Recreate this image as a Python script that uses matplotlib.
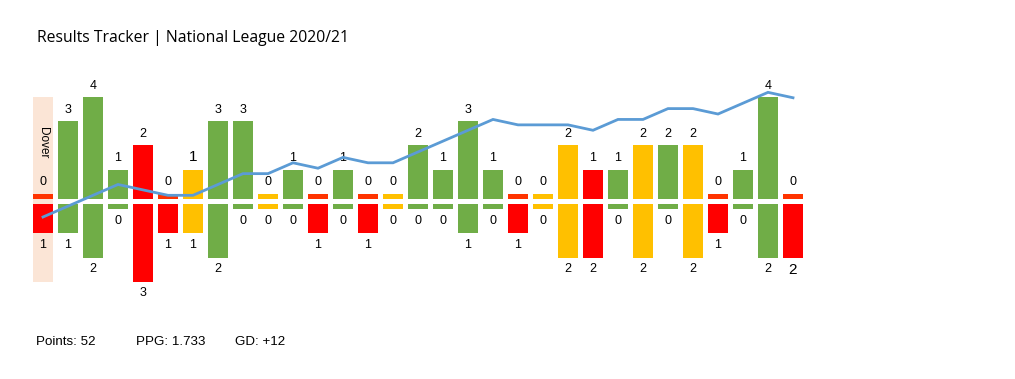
#!/usr/bin/env python3
import matplotlib.pyplot as plt

# match-by-match data (first match vs Dover was expunged)
opponents = ["Dover"] + [""] * 30
goals_for = [0, 3, 4, 1, 2, 0, 1, 3, 3, 0, 1, 0, 1, 0, 0, 2, 1, 3, 1, 0,
             0, 2, 1, 1, 2, 2, 2, 0, 1, 4, 0]
goals_against = [1, 1, 2, 0, 3, 1, 1, 2, 0, 0, 0, 1, 0, 1, 0, 0, 0, 1, 0, 1,
                 0, 2, 2, 0, 2, 0, 2, 1, 0, 2, 2]
results = ["L", "W", "W", "W", "L", "L", "D", "W", "W", "D", "W", "L", "W", "L",
           "D", "W", "W", "W", "W", "L", "D", "D", "L", "W", "D", "W", "D", "L",
           "W", "W", "L"]
# running form line (points above one-per-game)
form = [-1, 1, 3, 5, 4, 3, 3, 5, 7, 7, 9, 8, 10, 9, 9, 11, 13, 15, 17, 16,
        16, 16, 15, 17, 17, 19, 19, 18, 20, 22, 21]
expunged = [0]
big_labels = [(6, "for"), (30, "against")]

points_txt = "Points: 52"
ppg_txt = "PPG: 1.733"
gd_txt = "GD: +12"
title = "Results Tracker | National League 2020/21"

COL = {"W": "#70AD47", "D": "#FFC000", "L": "#FF0000"}
STUB_LOSS = "#FF3300"
LINE = "#5B9BD5"
SHADE = "#FBE5D6"

W, H = 1015, 379
fig = plt.figure(figsize=(W / 100, H / 100), dpi=100)
plt.rcParams["font.family"] = ["Liberation Sans", "DejaVu Sans"]

# axes placed in pixel terms: x 28..808, y 60..300 (from top)
ax = fig.add_axes([28 / W, 1 - 300 / H, 780 / W, 240 / H])
ax.set_xlim(-0.6, 30.6)
px = 24.2  # pixels per goal
zero_y = 201.5
ax.set_ylim(-(300 - zero_y) / px, (zero_y - 60) / px)
ax.axis("off")

gap = 0.1
stub = 0.22
bw = 0.8

for i in expunged:
    top = max(goals_for) + stub + gap
    bot = -(max(goals_against) + stub + gap)
    ax.bar(i, top - bot, bottom=bot, width=bw, color=SHADE, zorder=0)
    ax.text(i, 2.45, opponents[i], rotation=-90, ha="center", va="center",
            fontsize=8.5, zorder=3)

for i, (gf, ga, r) in enumerate(zip(goals_for, goals_against, results)):
    c = COL[r]
    upc = STUB_LOSS if (r == "L" and gf == 0) else c
    ax.bar(i, gf + stub, bottom=gap, width=bw, color=upc, zorder=1)
    ax.bar(i, -(ga + stub), bottom=-gap, width=bw, color=c, zorder=1)
    fs_up = 11 if (i, "for") in big_labels else 9
    fs_dn = 11 if (i, "against") in big_labels else 9
    ax.text(i, gf + stub + gap + 0.22, str(gf), ha="center", va="bottom",
            fontsize=fs_up, zorder=3)
    ax.text(i, -(ga + stub + gap + 0.22), str(ga), ha="center", va="top",
            fontsize=fs_dn, zorder=3)

# form line on its own scale
ax2 = ax.twinx()
ax2.axis("off")
ppu = 5.42
v0_y = 217 - ppu  # pixel y of form value 0
ax2.set_ylim(-(300 - v0_y) / ppu, (v0_y - 60) / ppu)
ax2.plot(range(len(form)), form, color=LINE, linewidth=2, zorder=4,
         solid_joinstyle="miter")

fig.text(37 / W, 1 - 38 / H, title, fontsize=11.3, family=["Open Sans", "DejaVu Sans"],
         ha="left", va="center")
fig.text(36 / W, 1 - 342 / H, points_txt, fontsize=9.6, ha="left", va="center")
fig.text(136 / W, 1 - 342 / H, ppg_txt, fontsize=9.6, ha="left", va="center")
fig.text(235 / W, 1 - 342 / H, gd_txt, fontsize=9.6, ha="left", va="center")

fig.savefig("out.png", dpi=100)
